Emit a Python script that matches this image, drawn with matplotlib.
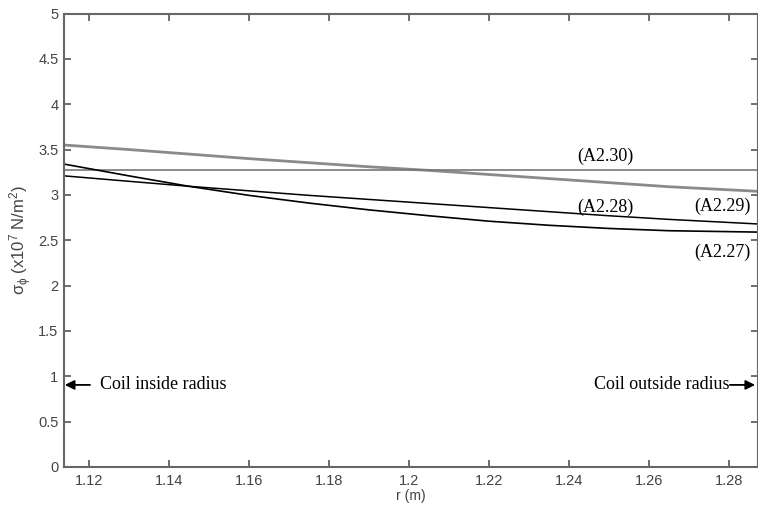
import matplotlib
matplotlib.use("Agg")
import matplotlib.pyplot as plt

r = [1.1138, 1.13, 1.145, 1.16, 1.175, 1.19, 1.205, 1.22, 1.235, 1.25, 1.265, 1.287]
a2_27 = [3.34, 3.21, 3.095, 2.995, 2.91, 2.835, 2.77, 2.71, 2.665, 2.63, 2.605, 2.59]
a2_28 = [3.21, 3.15, 3.095, 3.045, 2.995, 2.95, 2.905, 2.86, 2.815, 2.77, 2.73, 2.68]
a2_29 = [3.55, 3.50, 3.45, 3.40, 3.355, 3.31, 3.27, 3.225, 3.18, 3.135, 3.09, 3.04]
a2_30 = [3.28] * len(r)

xticks = [1.12, 1.14, 1.16, 1.18, 1.20, 1.22, 1.24, 1.26, 1.28]
xticklabels = ["1.12", "1.14", "1.16", "1.18", "1.2", "1.22", "1.24", "1.26", "1.28"]
yticks = [0, 0.5, 1, 1.5, 2, 2.5, 3, 3.5, 4, 4.5, 5]
yticklabels = ["0", "0.5", "1", "1.5", "2", "2.5", "3", "3.5", "4", "4.5", "5"]

plt.rcParams['font.family'] = ['Liberation Sans', 'DejaVu Sans']
plt.rcParams['mathtext.fontset'] = 'custom'
plt.rcParams['mathtext.rm'] = 'Liberation Sans'
plt.rcParams['mathtext.it'] = 'Liberation Sans'
plt.rcParams['mathtext.bf'] = 'Liberation Sans:bold'

fig = plt.figure(figsize=(7.58, 5.17), dpi=100)
ax = fig.add_axes([64/758, 50/517, (757.5-64)/758, (467-13.5)/517])

ax.plot(r, a2_29, color='#8a8a8a', lw=2.0)
ax.plot(r, a2_30, color='#777777', lw=1.2)
ax.plot(r, a2_27, color='black', lw=1.2)
ax.plot(r, a2_28, color='black', lw=1.1)

ax.set_xlim(1.1138, 1.2871)
ax.set_ylim(0, 5)
ax.set_xticks(xticks)
ax.set_xticklabels(xticklabels)
ax.set_yticks(yticks)
ax.set_yticklabels(yticklabels)
ax.tick_params(direction='in', length=5, width=1.2, color='#555555', labelcolor='#444444',
               labelsize=10.5, top=True, right=True, pad=4)
ax.tick_params(axis='x', pad=5)
for s in ax.spines.values():
    s.set_color('#666666')
    s.set_linewidth(1.5)

ax.set_xlabel('r (m)', fontsize=10, color='#444444', labelpad=1)
ax.set_ylabel(r'$\sigma_\phi$ (x10$^7$ N/m$^2$)', fontsize=12, color='#444444', labelpad=3)

serif = ['Liberation Serif', 'DejaVu Serif']
ax.text(1.249, 3.43, '(A2.30)', family=serif, fontsize=13, ha='center', va='center')
ax.text(1.249, 2.86, '(A2.28)', family=serif, fontsize=13, ha='center', va='center')
ax.text(1.2783, 2.87, '(A2.29)', family=serif, fontsize=13, ha='center', va='center')
ax.text(1.2783, 2.37, '(A2.27)', family=serif, fontsize=13, ha='center', va='center')

ax.annotate('', xy=(1.1140, 0.905), xytext=(1.1203, 0.905),
            arrowprops=dict(arrowstyle='-|>', color='black', lw=1.3, mutation_scale=14, shrinkA=0, shrinkB=0))
ax.text(1.1228, 0.905, 'Coil inside radius', family=serif, fontsize=13, ha='left', va='center')
ax.annotate('', xy=(1.2865, 0.905), xytext=(1.2802, 0.905),
            arrowprops=dict(arrowstyle='-|>', color='black', lw=1.3, mutation_scale=14, shrinkA=0, shrinkB=0))
ax.text(1.2800, 0.905, 'Coil outside radius', family=serif, fontsize=13, ha='right', va='center')

fig.savefig('out.png', dpi=100)
